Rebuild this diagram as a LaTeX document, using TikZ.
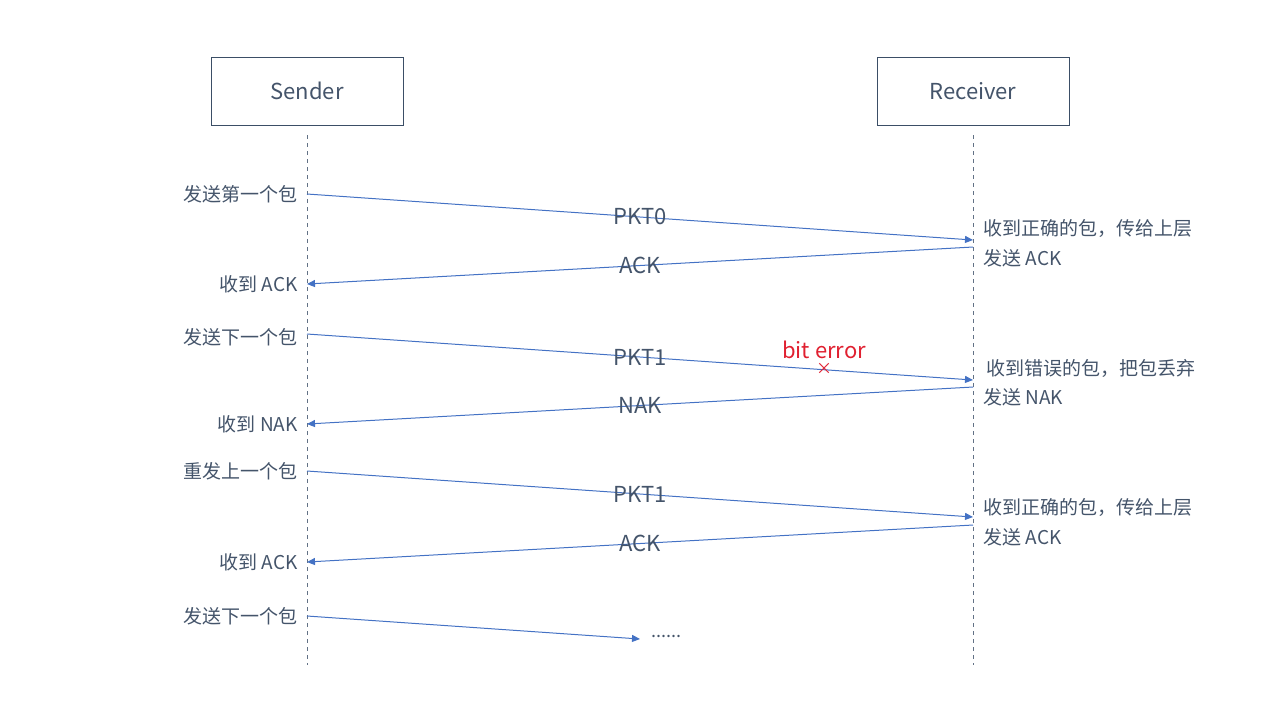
\documentclass[tikz,border=0pt]{standalone}
\usepackage{fontspec}
\setmainfont{Noto Sans CJK SC}
\usetikzlibrary{arrows.meta}
\definecolor{txtblue}{HTML}{44546A}
\definecolor{msgblue}{HTML}{4472C4}
\definecolor{boxline}{HTML}{3B4E66}
\definecolor{errred}{HTML}{E02030}

\begin{document}
\begin{tikzpicture}[
    x=0.5pt, y=-0.5pt, >={Triangle[length=4pt, width=3.5pt]},
    entity/.style={draw=boxline, line width=0.5pt, minimum width=96pt, minimum height=34pt, text=txtblue, font=\fontsize{11}{13}\selectfont},
    lifeline/.style={draw=boxline!80, dashed, dash pattern=on 2pt off 2pt, line width=0.4pt},
    msg/.style={->, draw=msgblue, line width=0.5pt},
    msglabel/.style={text=txtblue, font=\fontsize{11}{13}\selectfont, inner sep=0pt},
    leftnote/.style={anchor=east, text=txtblue, font=\fontsize{9.5}{11}\selectfont, inner sep=0pt},
    rightnote/.style={anchor=west, text=txtblue, font=\fontsize{9.5}{11}\selectfont, inner sep=0pt}
]
    \useasboundingbox (0,0) rectangle (1280,720);

    % entities and lifelines
    \node[entity] (sender) at (307,91) {Sender};
    \node[entity] (receiver) at (973,91) {Receiver};
    \coordinate (sTop) at (307,135);
    \coordinate (sBot) at (307,665);
    \coordinate (rTop) at (973,135);
    \coordinate (rBot) at (973,665);
    \draw[lifeline] (sTop) -- (sBot);
    \draw[lifeline] (rTop) -- (rBot);

    % points on the lifelines
    \coordinate (s1) at (307,194);  \coordinate (r1) at (973,240);
    \coordinate (r2) at (973,247);  \coordinate (s2) at (307,284);
    \coordinate (s3) at (307,334);  \coordinate (r3) at (973,380);
    \coordinate (r4) at (973,387);  \coordinate (s4) at (307,424);
    \coordinate (s5) at (307,471);  \coordinate (r5) at (973,517);
    \coordinate (r6) at (973,525);  \coordinate (s6) at (307,562);
    \coordinate (s7) at (307,616);  \coordinate (m7) at (640,639);

    % messages
    \draw[msg] (s1) -- (r1) node[msglabel, midway] (pkt0) {PKT0};
    \draw[msg] (r2) -- (s2) node[msglabel, midway] (ack1) {ACK};
    \draw[msg] (s3) -- (r3) node[msglabel, midway] (pkt1) {PKT1};
    \draw[msg] (r4) -- (s4) node[msglabel, midway] (nak) {NAK};
    \draw[msg] (s5) -- (r5) node[msglabel, midway] (pkt1b) {PKT1};
    \draw[msg] (r6) -- (s6) node[msglabel, midway] (ack2) {ACK};
    \draw[msg] (s7) -- (m7);
    \node[text=txtblue, anchor=west, inner sep=0pt, font=\fontsize{9}{11}\selectfont] (dots) at (651,636) {......};

    % bit error
    \node[text=errred, font=\fontsize{11}{13}\selectfont, inner sep=0pt] (biterr) at (824,350) {bit error};
    \node[text=errred, font=\fontsize{8}{10}\selectfont, inner sep=0pt] (cross) at (824,369) {×};

    % sender notes
    \node[leftnote] (n1) at (298,194) {发送第一个包};
    \node[leftnote] (n2) at (298,284) {收到 ACK};
    \node[leftnote] (n3) at (298,337) {发送下一个包};
    \node[leftnote] (n4) at (298,424) {收到 NAK};
    \node[leftnote] (n5) at (298,471) {重发上一个包};
    \node[leftnote] (n6) at (298,562) {收到 ACK};
    \node[leftnote] (n7) at (298,616) {发送下一个包};

    % receiver notes
    \node[rightnote] (m1) at (983,228) {收到正确的包，传给上层};
    \node[rightnote] (m2) at (983,258) {发送 ACK};
    \node[rightnote] (m3) at (986,368) {收到错误的包，把包丢弃};
    \node[rightnote] (m4) at (983,397) {发送 NAK};
    \node[rightnote] (m5) at (983,507) {收到正确的包，传给上层};
    \node[rightnote] (m6) at (983,537) {发送 ACK};
\end{tikzpicture}
\end{document}
